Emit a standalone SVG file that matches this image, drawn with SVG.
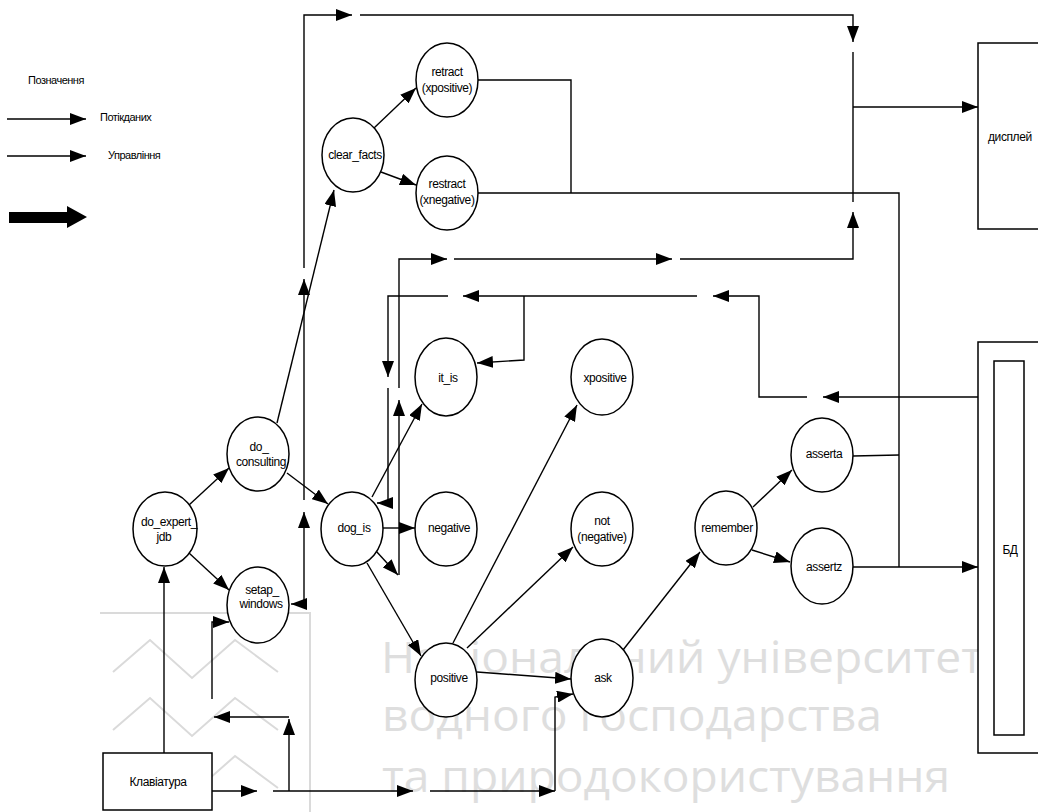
<svg xmlns="http://www.w3.org/2000/svg" width="1038" height="812" viewBox="0 0 1038 812">
  <style>
    .bg { fill: #ffffff; }
    .wm { fill: #dedede; font-family: "Open Sans", "Noto Sans", sans-serif; font-size: 43px; }
    .wl { fill: none; stroke: #dadada; stroke-width: 2; }
    .edge { fill: none; stroke: #000; stroke-width: 1.4; }
    .arr { marker-end: url(#head); }
    .node ellipse, .node rect { fill: #fff; stroke: #000; stroke-width: 1.5; }
    .lbl { font-family: "Liberation Sans", Arial, sans-serif; font-size: 12px; letter-spacing: -0.4px; fill: #000; text-anchor: middle; }
    .leg { font-family: "Liberation Sans", Arial, sans-serif; font-size: 11px; letter-spacing: -0.5px; fill: #000; }
  </style>
  <defs>
    <marker id="head" markerUnits="userSpaceOnUse" markerWidth="16" markerHeight="12" refX="16" refY="6" orient="auto">
      <path d="M0,0 L16,6 L0,12 z" fill="#000"/>
    </marker>
  </defs>

  <rect class="bg" x="0" y="0" width="1038" height="812"/>

  <!-- faint emblem and lettering in the background -->
  <g id="watermark">
    <path class="wl" d="M100,613 L310,613 L310,812"/>
    <path class="wl" d="M113,672 L150,640 L192,678 L235,640 L278,672"/>
    <path class="wl" d="M113,730 L150,698 L192,736 L235,698 L278,730"/>
    <path class="wl" d="M113,788 L150,756 L192,794 L235,756 L278,788"/>
    <text class="wm" x="381" y="673" textLength="602" lengthAdjust="spacingAndGlyphs">Національний університет</text>
    <text class="wm" x="382" y="731" textLength="500" lengthAdjust="spacingAndGlyphs">водного господарства</text>
    <text class="wm" x="382" y="792" textLength="568" lengthAdjust="spacingAndGlyphs">та природокористування</text>
  </g>

  <!-- legend -->
  <g id="legend">
    <text class="leg" x="28" y="84">Позначення</text>
    <path class="edge arr" d="M7,119 L86,119"/>
    <text class="leg" x="100" y="121">Потікданих</text>
    <path class="edge arr" d="M7,156 L86,156"/>
    <text class="leg" x="108" y="159">Управління</text>
    <polygon points="9,212 67,212 67,206 87,217 67,228 67,223 9,223" fill="#000"/>
  </g>

  <g id="connectors">
    <!-- setap_windows loop up to the display -->
    <path class="edge arr" d="M304,604 L291,604"/>
    <path class="edge arr" d="M304,604 L304,512"/>
    <path class="edge arr" d="M304,500 L304,279"/>
    <path class="edge arr" d="M304,268 L304,15 L352,15"/>
    <path class="edge arr" d="M360,15 L853,15 L853,42"/>
    <path class="edge" d="M853,52 L853,202"/>
    <path class="edge arr" d="M853,107 L978,107"/>

    <!-- retract / restract outputs -->
    <path class="edge" d="M478,80 L571,80 L571,193"/>
    <path class="edge" d="M478,193 L899,193 L899,567"/>
    <path class="edge" d="M853,456 L899,455"/>
    <path class="edge arr" d="M853,567 L978,567"/>

    <!-- dog_is feedback to display -->
    <path class="edge arr" d="M376,551 L398,575"/>
    <path class="edge arr" d="M399,575 L399,400"/>
    <path class="edge arr" d="M399,388 L399,259 L447,259"/>
    <path class="edge arr" d="M454,259 L672,259"/>
    <path class="edge arr" d="M680,259 L853,259 L853,212"/>

    <!-- database back to dog_is and it_is -->
    <path class="edge arr" d="M978,397 L823,397"/>
    <path class="edge arr" d="M807,397 L759,397 L759,296 L713,296"/>
    <path class="edge arr" d="M697,296 L463,296"/>
    <path class="edge arr" d="M524,296 L524,360 L477,363"/>
    <path class="edge arr" d="M448,296 L388,296 L388,377"/>
    <path class="edge arr" d="M388,388 L388,503 L377,503"/>

    <!-- node to node -->
    <path class="edge arr" d="M189,505 L229,468"/>
    <path class="edge arr" d="M189,553 L229,590"/>
    <path class="edge arr" d="M287,473 L328,504"/>
    <path class="edge arr" d="M277,423 L334,190"/>
    <path class="edge arr" d="M374,128 L416,88"/>
    <path class="edge arr" d="M381,172 L416,185"/>
    <path class="edge arr" d="M372,497 L422,404"/>
    <path class="edge arr" d="M383,528 L415,528"/>
    <path class="edge arr" d="M367,563 L421,656"/>
    <path class="edge arr" d="M453,643 L577,405"/>
    <path class="edge arr" d="M467,648 L573,547"/>
    <path class="edge arr" d="M477,672 L571,679"/>
    <path class="edge arr" d="M623,650 L700,552"/>
    <path class="edge arr" d="M753,507 L792,470"/>
    <path class="edge arr" d="M752,550 L790,562"/>

    <!-- keyboard outputs -->
    <path class="edge arr" d="M164,753 L164,567"/>
    <path class="edge arr" d="M212,699 L212,622 L229,622"/>
    <path class="edge arr" d="M212,791 L257,791"/>
    <path class="edge arr" d="M273,791 L413,791"/>
    <path class="edge arr" d="M430,791 L555,791"/>
    <path class="edge arr" d="M555,791 L555,697 L573,694"/>
    <path class="edge arr" d="M289,791 L289,719"/>
    <path class="edge arr" d="M289,717 L214,717"/>
  </g>

  <g id="n-retract" class="node">
    <ellipse cx="447" cy="80" rx="31" ry="37"/>
    <text class="lbl" x="447" y="76">retract</text>
    <text class="lbl" x="447" y="92">(xpositive)</text>
  </g>
  <g id="n-clear_facts" class="node">
    <ellipse cx="353" cy="155" rx="31" ry="37"/>
    <text class="lbl" x="355" y="159">clear_facts</text>
  </g>
  <g id="n-restract" class="node">
    <ellipse cx="447" cy="193" rx="31" ry="37"/>
    <text class="lbl" x="447" y="188">restract</text>
    <text class="lbl" x="447" y="204">(xnegative)</text>
  </g>
  <g id="n-it_is" class="node">
    <ellipse cx="446" cy="377" rx="31" ry="39"/>
    <text class="lbl" x="448" y="382">it_is</text>
  </g>
  <g id="n-xpositive" class="node">
    <ellipse cx="602" cy="377" rx="31" ry="38"/>
    <text class="lbl" x="605" y="382">xpositive</text>
  </g>
  <g id="n-do_consulting" class="node">
    <ellipse cx="258" cy="454" rx="31" ry="37"/>
    <text class="lbl" x="259" y="451">do_</text>
    <text class="lbl" x="261" y="466">consulting</text>
  </g>
  <g id="n-do_expert_jdb" class="node">
    <ellipse cx="165" cy="529" rx="32" ry="37"/>
    <text class="lbl" x="169" y="526">do_expert_</text>
    <text class="lbl" x="164" y="541">jdb</text>
  </g>
  <g id="n-setap_windows" class="node">
    <ellipse cx="258" cy="605" rx="31" ry="38"/>
    <text class="lbl" x="262" y="594">setap_</text>
    <text class="lbl" x="261" y="608">windows</text>
  </g>
  <g id="n-dog_is" class="node">
    <ellipse cx="352" cy="529" rx="31" ry="37"/>
    <text class="lbl" x="354" y="532">dog_is</text>
  </g>
  <g id="n-negative" class="node">
    <ellipse cx="446" cy="529" rx="31" ry="37"/>
    <text class="lbl" x="449" y="532">negative</text>
  </g>
  <g id="n-not_negative" class="node">
    <ellipse cx="602" cy="529" rx="31" ry="37"/>
    <text class="lbl" x="602" y="525">not</text>
    <text class="lbl" x="602" y="541">(negative)</text>
  </g>
  <g id="n-remember" class="node">
    <ellipse cx="726" cy="528" rx="31" ry="37"/>
    <text class="lbl" x="727" y="532">remember</text>
  </g>
  <g id="n-asserta" class="node">
    <ellipse cx="822" cy="455" rx="31" ry="37"/>
    <text class="lbl" x="824" y="458">asserta</text>
  </g>
  <g id="n-assertz" class="node">
    <ellipse cx="822" cy="566" rx="31" ry="38"/>
    <text class="lbl" x="824" y="571">assertz</text>
  </g>
  <g id="n-positive" class="node">
    <ellipse cx="446" cy="680" rx="31" ry="37"/>
    <text class="lbl" x="449" y="682">positive</text>
  </g>
  <g id="n-ask" class="node">
    <ellipse cx="602" cy="678" rx="31" ry="39"/>
    <text class="lbl" x="603" y="682">ask</text>
  </g>

  <g id="n-keyboard" class="node">
    <rect x="103" y="753" width="109" height="57"/>
    <text class="lbl" x="158" y="786">Клавіатура</text>
  </g>
  <g id="n-display" class="node">
    <rect x="978" y="43" width="70" height="186"/>
    <text class="lbl" x="988" y="141" style="text-anchor:start">дисплей</text>
  </g>
  <g id="n-db" class="node">
    <rect x="978" y="342" width="70" height="411"/>
    <rect x="994" y="361" width="30" height="374"/>
    <text class="lbl" x="1010" y="554">БД</text>
  </g>
</svg>
